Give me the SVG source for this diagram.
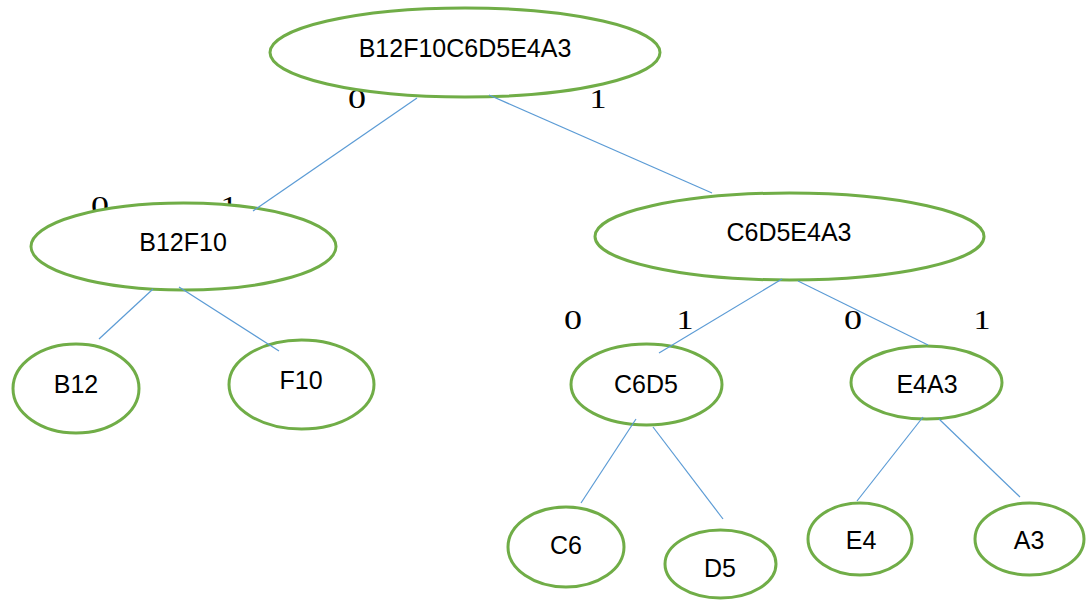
<svg xmlns="http://www.w3.org/2000/svg" width="1090" height="600" viewBox="0 0 1090 600">
<style>
.n ellipse{fill:#fff;stroke:#70AD47;stroke-width:3}
.n text{font-family:"Liberation Sans",Arial,sans-serif;font-size:25px;fill:#000;text-anchor:middle}
.lbl{font-family:"Liberation Serif","Times New Roman",serif;font-size:28px;fill:#000;text-anchor:middle}
#connectors line{stroke:#5B9BD5;stroke-width:1.2}
</style>
<rect width="1090" height="600" fill="#fff"/>
<g id="labels">
<text class="lbl" x="357" y="108" textLength="18" lengthAdjust="spacingAndGlyphs">0</text>
<text class="lbl" x="598" y="108" textLength="17" lengthAdjust="spacingAndGlyphs">1</text>
<text class="lbl" x="100" y="215" textLength="18" lengthAdjust="spacingAndGlyphs">0</text>
<text class="lbl" x="229" y="215" textLength="17" lengthAdjust="spacingAndGlyphs">1</text>
<text class="lbl" x="573" y="329" textLength="18" lengthAdjust="spacingAndGlyphs">0</text>
<text class="lbl" x="685" y="329" textLength="17" lengthAdjust="spacingAndGlyphs">1</text>
<text class="lbl" x="853" y="329" textLength="18" lengthAdjust="spacingAndGlyphs">0</text>
<text class="lbl" x="982" y="329" textLength="17" lengthAdjust="spacingAndGlyphs">1</text>
</g>
<g id="n-root" class="n"><ellipse cx="465" cy="52.5" rx="195" ry="44.5"/><text x="465" y="57">B12F10C6D5E4A3</text></g>
<g id="n-B12F10" class="n"><ellipse cx="183.5" cy="246.5" rx="152.5" ry="43.5"/><text x="183" y="251">B12F10</text></g>
<g id="n-C6D5E4A3" class="n"><ellipse cx="789.5" cy="236.5" rx="194.5" ry="43.5"/><text x="789" y="241">C6D5E4A3</text></g>
<g id="n-B12" class="n"><ellipse cx="76" cy="388.5" rx="63" ry="44.5"/><text x="76" y="393">B12</text></g>
<g id="n-F10" class="n"><ellipse cx="301.5" cy="384.5" rx="72.5" ry="44.5"/><text x="301" y="389">F10</text></g>
<g id="n-C6D5" class="n"><ellipse cx="646.5" cy="384.5" rx="75.5" ry="40.5"/><text x="646" y="393">C6D5</text></g>
<g id="n-E4A3" class="n"><ellipse cx="926.5" cy="382.5" rx="75.5" ry="36.5"/><text x="927" y="393">E4A3</text></g>
<g id="n-C6" class="n"><ellipse cx="566" cy="547" rx="58" ry="40"/><text x="566" y="554">C6</text></g>
<g id="n-D5" class="n"><ellipse cx="720.5" cy="564" rx="55.5" ry="34"/><text x="720" y="577">D5</text></g>
<g id="n-E4" class="n"><ellipse cx="860" cy="539" rx="52" ry="36"/><text x="861" y="549">E4</text></g>
<g id="n-A3" class="n"><ellipse cx="1029.5" cy="539" rx="54.5" ry="36"/><text x="1029" y="549">A3</text></g>
<g id="connectors">
<line x1="417" y1="98" x2="253" y2="211"/>
<line x1="489" y1="95" x2="712" y2="193"/>
<line x1="153" y1="289" x2="99" y2="339"/>
<line x1="179" y1="287" x2="279" y2="351"/>
<line x1="782" y1="279" x2="659" y2="353"/>
<line x1="798" y1="281" x2="928" y2="345"/>
<line x1="636" y1="419" x2="581" y2="503"/>
<line x1="653" y1="427" x2="723" y2="519"/>
<line x1="923" y1="417" x2="857" y2="501"/>
<line x1="939" y1="419" x2="1020" y2="497"/>
</g>
</svg>
